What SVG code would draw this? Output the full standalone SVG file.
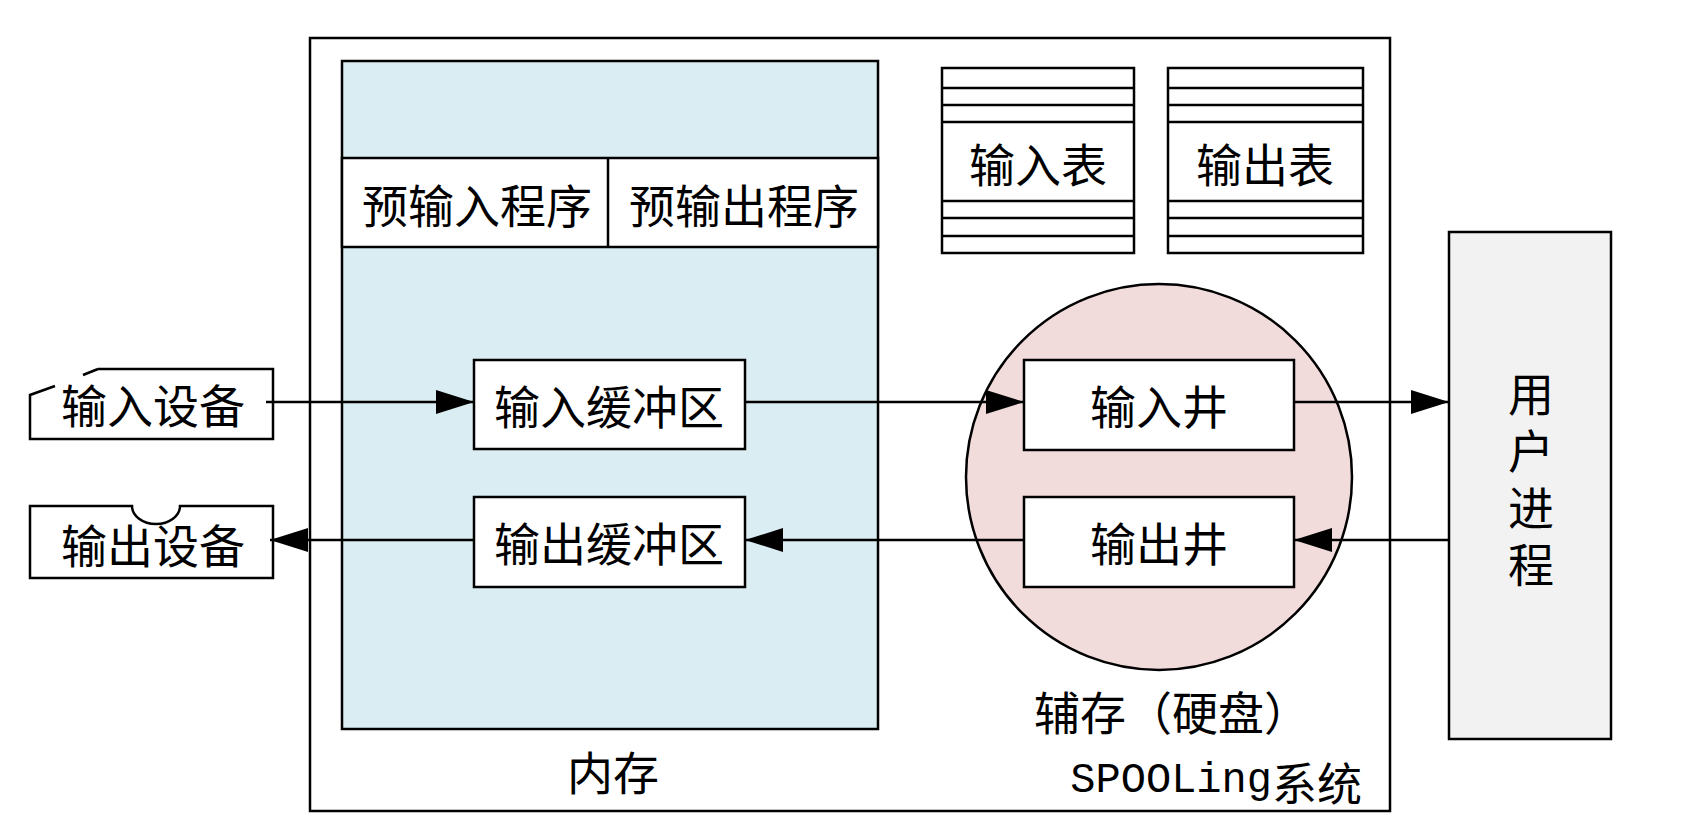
<svg xmlns="http://www.w3.org/2000/svg" width="1685" height="822" viewBox="0 0 1685 822">
<style>
.s{stroke:#000;stroke-width:2.5;fill:#fff}
.ln{stroke:#000;stroke-width:2.5;fill:none}
.t{font-family:"Noto Sans CJK SC","Liberation Serif",serif;font-size:46px;fill:#000;text-anchor:middle;dominant-baseline:central}
.c{stroke:#000;stroke-width:2.5;fill:none}
</style>
<defs>
<marker id="ah" markerUnits="userSpaceOnUse" markerWidth="40" markerHeight="26" refX="38" refY="12" orient="auto">
<path d="M0,0 L38,12 L0,24 z" fill="#000"/>
</marker>
</defs>
<rect width="1685" height="822" fill="#fff"/>

<g id="spooling">
<rect x="310" y="38" width="1080" height="773" class="s"/>
<text x="1362" y="781" font-size="45" text-anchor="end" dominant-baseline="central"><tspan font-family="Liberation Mono, monospace" font-size="42">SPOOLing</tspan><tspan font-family="Noto Sans CJK SC, sans-serif">系统</tspan></text>
</g>

<g id="memory">
<rect x="342" y="61" width="536" height="668" fill="#DAEDF2" stroke="#000" stroke-width="2.5"/>
<text class="t" x="613" y="770">内存</text>
</g>

<g id="programs">
<rect x="342" y="158" width="536" height="89" class="s"/>
<line x1="608" y1="158" x2="608" y2="247" class="ln"/>
<text class="t" x="477" y="203">预输入程序</text>
<text class="t" x="744" y="203">预输出程序</text>
</g>

<g id="input-buffer">
<rect x="474" y="360" width="271" height="89" class="s"/>
<text class="t" x="609" y="404">输入缓冲区</text>
</g>
<g id="output-buffer">
<rect x="474" y="497" width="271" height="90" class="s"/>
<text class="t" x="609" y="541">输出缓冲区</text>
</g>

<g id="input-table">
<rect x="942" y="68" width="192" height="185" class="s"/>
<path d="M942,88H1134M942,105H1134M942,122H1134M942,201H1134M942,218H1134M942,236H1134" class="ln"/>
<text class="t" x="1038" y="162">输入表</text>
</g>
<g id="output-table">
<rect x="1168" y="68" width="195" height="185" class="s"/>
<path d="M1168,88H1363M1168,105H1363M1168,122H1363M1168,201H1363M1168,218H1363M1168,236H1363" class="ln"/>
<text class="t" x="1265" y="162">输出表</text>
</g>

<g id="disk">
<circle cx="1159" cy="477" r="193" fill="#F2DCDB" stroke="#000" stroke-width="2.5"/>
<text class="t" x="1172" y="710">辅存（硬盘）</text>
</g>
<g id="input-well">
<rect x="1024" y="360" width="270" height="90" class="s"/>
<text class="t" x="1159" y="404">输入井</text>
</g>
<g id="output-well">
<rect x="1024" y="497" width="270" height="90" class="s"/>
<text class="t" x="1159" y="541">输出井</text>
</g>

<g id="user-process">
<rect x="1449" y="232" width="162" height="507" fill="#F2F2F2" stroke="#000" stroke-width="2.5"/>
<text class="t" x="1531" y="485" writing-mode="vertical-rl" letter-spacing="11">用户进程</text>
</g>

<g id="input-device">
<path d="M98,369 L273,369 L273,439 L30,439 L30,395 L55,386 M83,375 L98,369" class="s"/>
<text class="t" x="153" y="403">输入设备</text>
</g>
<g id="output-device">
<path d="M30,506 L132,506 A24,18 0 0,0 180,506 L273,506 L273,578 L30,578 Z" class="s"/>
<text class="t" x="153" y="543">输出设备</text>
</g>

<g id="connectors">
<line x1="266" y1="402" x2="474" y2="402" class="c" marker-end="url(#ah)"/>
<line x1="745" y1="402" x2="1024" y2="402" class="c" marker-end="url(#ah)"/>
<line x1="1294" y1="402" x2="1449" y2="402" class="c" marker-end="url(#ah)"/>
<line x1="1449" y1="540" x2="1294" y2="540" class="c" marker-end="url(#ah)"/>
<line x1="1024" y1="540" x2="745" y2="540" class="c" marker-end="url(#ah)"/>
<line x1="474" y1="540" x2="270" y2="540" class="c" marker-end="url(#ah)"/>
</g>
</svg>
